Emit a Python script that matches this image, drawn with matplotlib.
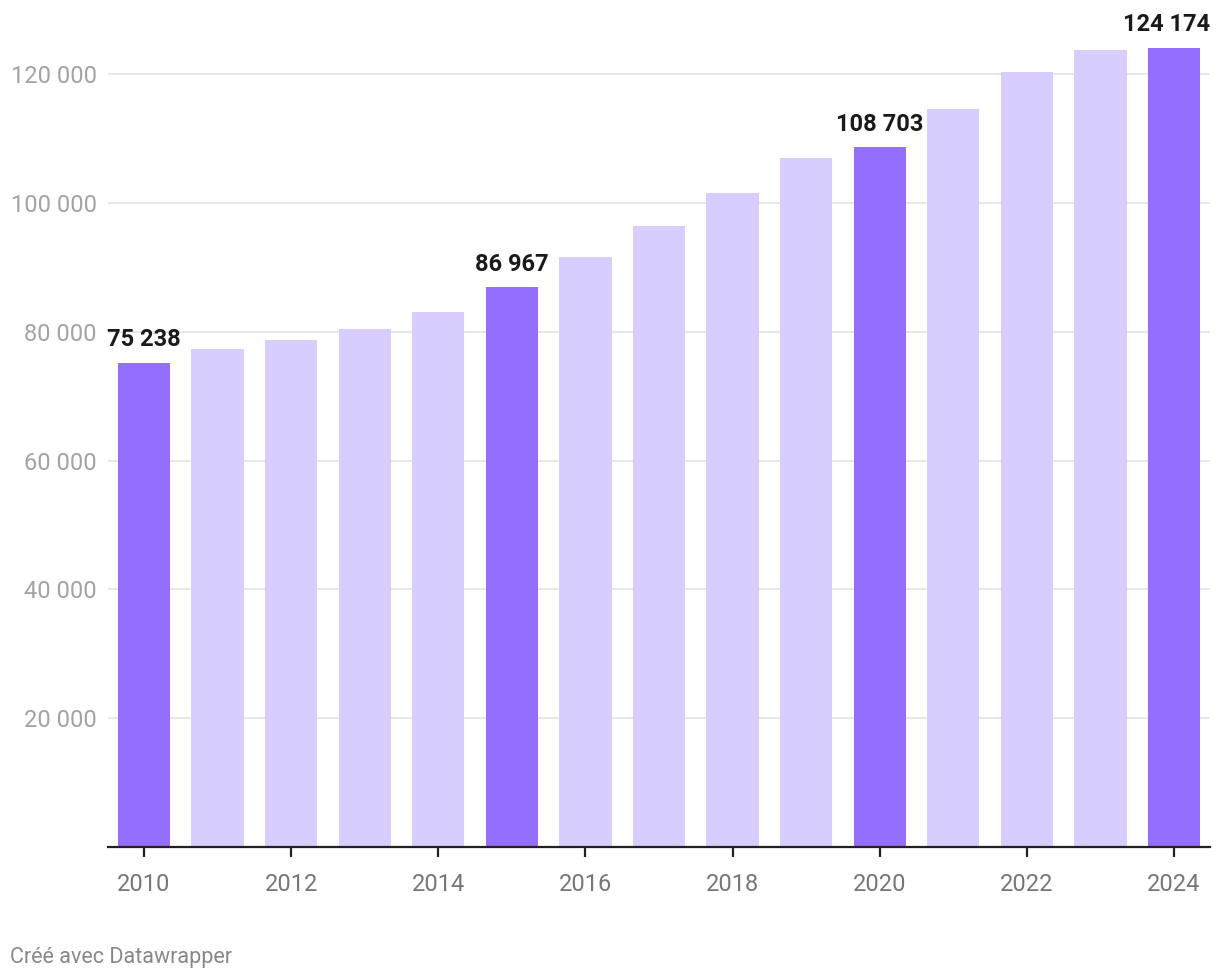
import numpy as np
import matplotlib
matplotlib.use("Agg")
import matplotlib.pyplot as plt

plt.rcParams['font.family'] = ['Roboto', 'DejaVu Sans']

years = list(range(2010, 2025))
values = [75238, 77400, 78800, 80500, 83150, 86967, 91700, 96400,
          101650, 106950, 108703, 114550, 120300, 123750, 124174]
highlight = [2010, 2015, 2020, 2024]

dark = '#936eff'
light = '#d9cdff'

fig = plt.figure(figsize=(12.2, 9.8), dpi=100)
ax = fig.add_axes([108 / 1220, 133 / 980, 1102 / 1220, 837 / 980])

colors = [dark if y in highlight else light for y in years]
ax.bar(years, values, width=0.71, color=colors, zorder=2)

ax.set_xlim(2009.51, 2024.49)
ax.set_ylim(0, 130000)

yt = [20000, 40000, 60000, 80000, 100000, 120000]
ax.set_yticks(yt)
ax.set_yticklabels([f"{v:,}".replace(",", " ") for v in yt])
for v in yt:
    ax.axhline(v, color='#e4e4e4', lw=1.2, zorder=1)
ax.tick_params(axis='y', length=0, pad=8, labelsize=17, labelcolor='#a3a3a3')

ax.set_xticks(years[::2])
ax.tick_params(axis='x', length=7, width=1.6, color='#222222', pad=12,
               labelsize=17, labelcolor='#777777')

for s in ['top', 'right', 'left']:
    ax.spines[s].set_visible(False)
ax.spines['bottom'].set_linewidth(1.6)
ax.spines['bottom'].set_color('#222222')
ax.spines['bottom'].set_zorder(3)

for y, v in zip(years, values):
    if y in highlight:
        lab = f"{v:,}".replace(",", " ")
        if y == years[-1]:
            ax.annotate(lab, (1.0, v), xycoords=('axes fraction', 'data'),
                        xytext=(0, 8), textcoords='offset points',
                        ha='right', va='bottom', fontsize=17, fontweight='bold',
                        color='#1a1a1a')
        else:
            ax.annotate(lab, (y, v), xytext=(0, 8), textcoords='offset points',
                        ha='center', va='bottom', fontsize=17, fontweight='bold',
                        color='#1a1a1a')

fig.text(10 / 1220, 1 - 957 / 980, "Créé avec Datawrapper", fontsize=15.5,
         color='#888888', va='center', ha='left')

fig.savefig('out.png', dpi=100)
